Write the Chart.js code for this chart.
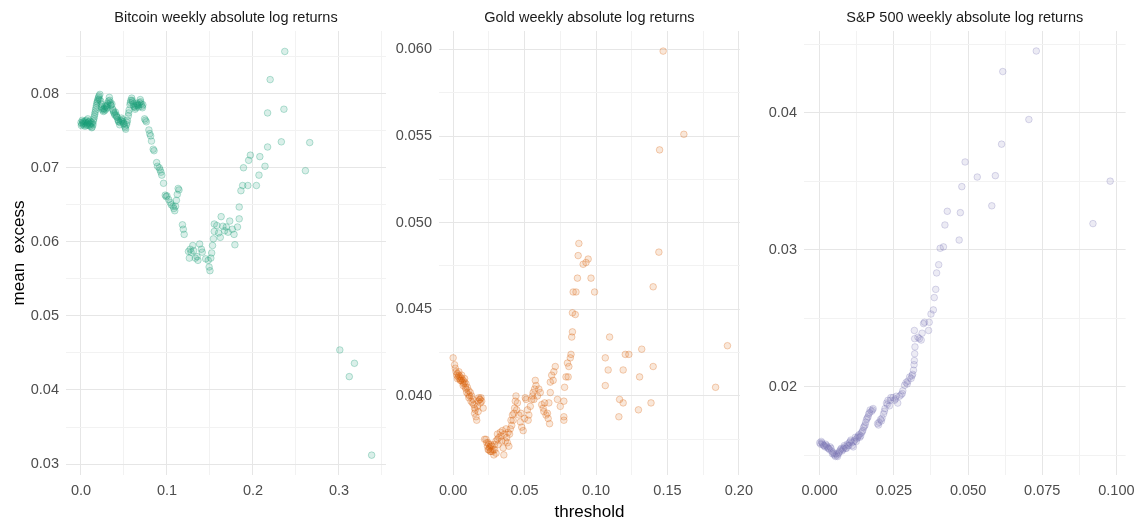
<!DOCTYPE html>
<html>
<head>
<meta charset="utf-8">
<title>Mean excess plots</title>
<script src="https://cdn.jsdelivr.net/npm/chart.js@4.4.1/dist/chart.umd.min.js"></script>
<style>
  html, body { margin: 0; padding: 0; background: #fff; }
  #wrap { position: relative; width: 1142px; height: 527px; overflow: hidden; }
  #wrap canvas { position: absolute; top: 0; }
</style>
</head>
<body>
<div id="wrap">
  <canvas id="btc" width="392" height="527" style="left:0px"></canvas>
  <canvas id="gold" width="368" height="527" style="left:392px"></canvas>
  <canvas id="spx" width="382" height="527" style="left:760px"></canvas>
</div>
<script>
// [threshold, mean excess]
const btcPoints = [
  [0.000,0.0761],[0.001,0.0759],[0.002,0.0762],[0.003,0.0758],[0.004,0.0760],[0.005,0.0763],[0.006,0.0757],
  [0.007,0.0760],[0.008,0.0766],[0.009,0.0762],[0.010,0.0759],[0.011,0.0756],[0.012,0.0761],[0.013,0.0755],
  [0.014,0.0758],[0.015,0.0766],[0.016,0.0772],[0.017,0.0778],[0.018,0.0784],[0.019,0.0789],[0.020,0.0793],
  [0.021,0.0797],[0.022,0.0799],[0.023,0.0790],[0.024,0.0782],[0.025,0.0778],[0.026,0.0776],[0.027,0.0780],
  [0.028,0.0783],[0.029,0.0779],[0.030,0.0784],[0.031,0.0787],[0.032,0.0790],[0.033,0.0795],[0.034,0.0788],
  [0.035,0.0784],[0.036,0.0786],[0.037,0.0779],[0.038,0.0775],[0.039,0.0773],[0.040,0.0775],[0.041,0.0771],
  [0.042,0.0768],[0.043,0.0765],[0.044,0.0762],[0.045,0.0758],[0.046,0.0764],[0.047,0.0767],[0.048,0.0765],
  [0.049,0.0762],[0.050,0.0760],[0.051,0.0756],[0.052,0.0752],[0.053,0.0758],[0.054,0.0764],[0.055,0.0770],
  [0.056,0.0778],[0.057,0.0785],[0.058,0.0791],[0.059,0.0794],[0.060,0.0789],[0.061,0.0786],[0.062,0.0782],
  [0.063,0.0779],[0.064,0.0784],[0.065,0.0787],[0.066,0.0784],[0.067,0.0782],[0.068,0.0788],[0.069,0.0792],
  [0.070,0.0786],[0.071,0.0783],[0.072,0.0785],[0.074,0.0766],[0.075,0.0764],[0.076,0.0762],[0.079,0.0751],
  [0.0005,0.0757],[0.0015,0.0764],[0.0025,0.0760],[0.0035,0.0762],[0.0045,0.0756],[0.0055,0.0761],[0.0065,0.0764],
  [0.0075,0.0758],[0.0085,0.0761],[0.0095,0.0757],[0.0105,0.0763],[0.0115,0.0759],[0.0125,0.0754],[0.0135,0.0760],
  [0.0145,0.0763],[0.0155,0.0769],[0.0165,0.0775],[0.0175,0.0781],[0.0185,0.0787],[0.0195,0.0791],[0.0205,0.0795],
  [0.0215,0.0792],[0.0235,0.0786],[0.0245,0.0780],[0.0265,0.0779],[0.0275,0.0777],[0.0295,0.0782],[0.0305,0.0781],
  [0.0315,0.0785],[0.0335,0.0791],[0.0345,0.0785],[0.0375,0.0777],[0.0395,0.0771],[0.0415,0.0769],[0.0435,0.0763],
  [0.0455,0.0761],[0.0475,0.0763],[0.0495,0.0759],[0.0515,0.0754],[0.0535,0.0761],[0.0555,0.0774],[0.0575,0.0788],
  [0.0595,0.0791],[0.0615,0.0783],[0.0635,0.0781],[0.0655,0.0785],[0.0675,0.0785],[0.0695,0.0789],[0.0715,0.0781],
  [0.080,0.0746],[0.081,0.0743],[0.082,0.0736],[0.084,0.0725],[0.085,0.0723],[0.088,0.0707],[0.089,0.0702],
  [0.091,0.0700],[0.092,0.0697],[0.093,0.0694],[0.094,0.0690],[0.096,0.0679],[0.098,0.0663],[0.099,0.0661],
  [0.100,0.0662],[0.102,0.0657],[0.104,0.0653],[0.105,0.0650],[0.107,0.0648],[0.108,0.0645],[0.109,0.0642],
  [0.110,0.0648],[0.111,0.0656],[0.112,0.0664],[0.113,0.0672],[0.114,0.0670],[0.118,0.0623],[0.119,0.0617],
  [0.120,0.0610],[0.125,0.0587],[0.126,0.0578],[0.127,0.0590],[0.128,0.0586],[0.130,0.0595],[0.131,0.0588],
  [0.133,0.0578],[0.135,0.0580],[0.136,0.0575],[0.138,0.0597],[0.140,0.0590],[0.141,0.0586],[0.145,0.0577],
  [0.148,0.0575],[0.149,0.0566],[0.150,0.0561],[0.151,0.0578],[0.152,0.0585],[0.153,0.0595],[0.154,0.0604],
  [0.155,0.0614],[0.155,0.0624],[0.158,0.0622],[0.160,0.0612],[0.162,0.0606],[0.163,0.0634],[0.165,0.0621],
  [0.167,0.0615],[0.169,0.0620],[0.171,0.0613],[0.173,0.0628],[0.176,0.0617],[0.178,0.0610],[0.179,0.0596],
  [0.182,0.0620],[0.184,0.0631],[0.184,0.0647],[0.186,0.0669],[0.188,0.0676],[0.189,0.0700],[0.194,0.0676],
  [0.195,0.0710],[0.197,0.0717],[0.204,0.0676],[0.207,0.0690],[0.208,0.0715],[0.214,0.0702],[0.217,0.0728],
  [0.217,0.0774],[0.220,0.0819],[0.233,0.0735],[0.236,0.0779],[0.237,0.0857],[0.261,0.0696],[0.266,0.0734],
  [0.301,0.0454],[0.312,0.0418],[0.318,0.0436],[0.338,0.0312]
];

const goldPoints = [
  [0.000,0.0422],[0.001,0.0418],[0.002,0.0414],[0.0025,0.0412],[0.003,0.0413],[0.0035,0.0411],[0.004,0.0412],
  [0.0045,0.0410],[0.005,0.0411],[0.0055,0.0409],[0.006,0.0410],[0.0065,0.0408],[0.007,0.0409],[0.0075,0.0407],
  [0.008,0.0408],[0.0085,0.0405],[0.009,0.0404],[0.010,0.0405],[0.011,0.0403],[0.011,0.0399],[0.012,0.0402],
  [0.0125,0.0397],[0.013,0.0400],[0.014,0.0398],[0.0145,0.0395],[0.015,0.0393],[0.015,0.0390],[0.016,0.0388],
  [0.0165,0.0386],[0.017,0.0394],[0.0175,0.0397],[0.018,0.0399],[0.0185,0.0398],[0.019,0.0396],[0.0195,0.0399],
  [0.020,0.0397],[0.021,0.0393],[0.022,0.0375],[0.023,0.0375],[0.024,0.0371],[0.0245,0.0369],[0.025,0.0372],
  [0.0255,0.0370],[0.026,0.0371],[0.0265,0.0368],[0.027,0.0371],[0.028,0.0369],[0.0285,0.0366],[0.029,0.0369],
  [0.030,0.0374],[0.031,0.0378],[0.0315,0.0372],[0.032,0.0376],[0.033,0.0379],[0.034,0.0374],[0.035,0.0370],
  [0.0355,0.0366],[0.036,0.0378],[0.037,0.0381],[0.0375,0.0376],[0.038,0.0373],[0.039,0.0371],[0.0395,0.0378],
  [0.040,0.0381],[0.041,0.0383],[0.042,0.0386],[0.0425,0.0390],[0.043,0.0393],[0.0435,0.0397],[0.044,0.0400],
  [0.0015,0.0416],[0.003,0.0410],[0.004,0.0414],[0.005,0.0409],[0.006,0.0412],[0.007,0.0406],[0.008,0.0410],
  [0.009,0.0407],[0.0095,0.0402],[0.0105,0.0401],[0.0115,0.0400],[0.0135,0.0396],[0.0155,0.0392],[0.0175,0.0391],
  [0.019,0.0398],[0.0235,0.0373],[0.0245,0.0373],[0.025,0.0369],[0.026,0.0368],[0.0265,0.0372],[0.0275,0.0368],
  [0.029,0.0372],[0.030,0.0367],[0.031,0.0375],[0.0335,0.0377],[0.0345,0.0380],[0.0365,0.0374],[0.0385,0.0379],
  [0.0405,0.0386],[0.0415,0.0389],[0.0445,0.0392],[0.0475,0.0390],[0.0525,0.0386],[0.0565,0.0398],[0.060,0.0404],
  [0.064,0.0396],
  [0.045,0.0396],[0.046,0.0389],[0.047,0.0385],[0.048,0.0382],[0.049,0.0380],[0.050,0.0387],[0.0505,0.0399],
  [0.051,0.0398],[0.052,0.0392],[0.053,0.0389],[0.054,0.0394],[0.055,0.0398],[0.0555,0.0400],[0.056,0.0402],
  [0.057,0.0404],[0.0575,0.0409],[0.058,0.0406],[0.059,0.0400],[0.061,0.0402],[0.062,0.0395],[0.063,0.0393],
  [0.0635,0.0391],[0.065,0.0389],[0.066,0.0390],[0.0665,0.0387],[0.0675,0.0384],[0.067,0.0396],[0.068,0.0402],
  [0.068,0.0408],[0.069,0.0412],[0.070,0.0409],[0.0705,0.0414],[0.0715,0.0417],[0.073,0.0398],[0.075,0.0394],
  [0.0775,0.0397],[0.0775,0.0388],[0.0775,0.0386],[0.078,0.0405],[0.079,0.0411],[0.080,0.0419],[0.0805,0.0411],
  [0.081,0.0417],[0.082,0.0422],[0.0825,0.0424],[0.083,0.0434],[0.0835,0.0437],[0.0835,0.0448],[0.0855,0.0447],
  [0.084,0.0460],[0.086,0.0460],[0.087,0.0468],[0.0875,0.0481],[0.088,0.0488],[0.091,0.0476],[0.093,0.0477],
  [0.0945,0.0479],[0.0965,0.0468],[0.099,0.0460],[0.1065,0.0422],[0.1065,0.0406],[0.1085,0.0415],[0.1095,0.0434],
  [0.116,0.0388],[0.1165,0.0398],[0.119,0.0396],[0.119,0.0415],[0.1205,0.0424],[0.123,0.0424],[0.1297,0.0392],
  [0.1305,0.0411],[0.132,0.0427],[0.1385,0.0396],[0.140,0.0417],[0.140,0.0463],[0.144,0.0483],[0.1445,0.0542],
  [0.147,0.0599],[0.1615,0.0551],[0.1837,0.0405],[0.192,0.0429]
];

const spxPoints = [
  [0.0000,0.0159],[0.0005,0.0160],[0.0010,0.0158],[0.0015,0.0157],[0.0020,0.0158],[0.0025,0.0156],[0.0030,0.0155],
  [0.0035,0.0156],[0.0040,0.0153],[0.0045,0.0152],[0.0050,0.0150],[0.0055,0.0151],[0.0060,0.0149],[0.0065,0.0152],
  [0.0070,0.0154],[0.0075,0.0153],[0.0080,0.0155],[0.0085,0.0156],[0.0090,0.0155],[0.0095,0.0157],[0.0100,0.0159],
  [0.0105,0.0161],[0.0110,0.0157],[0.0115,0.0160],[0.0120,0.0163],[0.0125,0.0162],[0.0130,0.0164],[0.0135,0.0163],
  [0.0140,0.0166],[0.0145,0.0168],[0.0150,0.0171],[0.0155,0.0174],[0.0160,0.0177],[0.0165,0.0180],[0.0170,0.0183],
  [0.0003,0.0158],[0.0008,0.0159],[0.0013,0.0157],[0.0018,0.0156],[0.0023,0.0157],[0.0028,0.0155],[0.0033,0.0154],
  [0.0038,0.0155],[0.0043,0.0151],[0.0048,0.0151],[0.0053,0.0149],[0.0058,0.0150],[0.0063,0.0151],[0.0068,0.0153],
  [0.0073,0.0155],[0.0078,0.0154],[0.0083,0.0157],[0.0088,0.0155],[0.0093,0.0158],[0.0098,0.0157],[0.0103,0.0160],
  [0.0108,0.0159],[0.0113,0.0156],[0.0118,0.0161],[0.0123,0.0160],[0.0128,0.0163],[0.0133,0.0165],[0.0138,0.0164],
  [0.0143,0.0167],[0.0148,0.0170],[0.0153,0.0172],[0.0158,0.0176],[0.0163,0.0178],[0.0168,0.0181],[0.0178,0.0183],
  [0.0198,0.0172],[0.0208,0.0175],[0.0218,0.0182],[0.0228,0.0187],[0.0238,0.0190],[0.0255,0.0191],[0.0278,0.0195],
  [0.0295,0.0202],[0.0311,0.0208],
  [0.0175,0.0182],[0.0180,0.0184],[0.0195,0.0173],[0.0200,0.0174],[0.0205,0.0176],[0.0210,0.0177],[0.0215,0.0180],
  [0.0220,0.0184],[0.0225,0.0188],[0.0230,0.0190],[0.0235,0.0186],[0.0240,0.0192],[0.0247,0.0192],[0.0252,0.0190],
  [0.0258,0.0193],[0.0263,0.0188],[0.0269,0.0193],[0.0274,0.0194],[0.0280,0.0197],[0.0286,0.0201],[0.0291,0.0203],
  [0.0297,0.0204],[0.0303,0.0207],[0.0308,0.0206],[0.0313,0.0209],[0.0316,0.0212],[0.0318,0.0216],[0.0319,0.0219],
  [0.0320,0.0224],[0.0321,0.0229],[0.0320,0.0235],[0.0319,0.0241],[0.0331,0.0236],[0.0336,0.0235],[0.0342,0.0234],
  [0.0345,0.0239],[0.0350,0.0246],[0.0353,0.0247],[0.0367,0.0241],[0.0369,0.0247],[0.0375,0.0253],[0.0383,0.0256],
  [0.0386,0.0265],[0.0391,0.0271],[0.0394,0.0283],[0.0401,0.0289],[0.0406,0.0301],[0.0417,0.0302],[0.0422,0.0318],
  [0.0430,0.0328],[0.0470,0.0307],[0.0474,0.0327],[0.0479,0.0346],[0.0490,0.0364],[0.0531,0.0353],[0.0580,0.0332],
  [0.0592,0.0354],[0.0613,0.0377],[0.0617,0.0430],[0.0705,0.0395],[0.0730,0.0445],[0.0921,0.0319],[0.0979,0.0350]
];

const fontFamily = '"Liberation Sans", Arial, Helvetica, sans-serif';

// draws the facet strip title centred over the plot area
const stripTitle = {
  id: 'stripTitle',
  afterDraw(chart, args, opts) {
    const { ctx, chartArea } = chart;
    ctx.save();
    ctx.font = '14.5px ' + fontFamily;
    ctx.fillStyle = '#1a1a1a';
    ctx.textAlign = 'center';
    ctx.textBaseline = 'middle';
    ctx.fillText(opts.text, (chartArea.left + chartArea.right) / 2, 18);
    ctx.restore();
  }
};

const isMajor = (v, major) => Math.abs(v / major - Math.round(v / major)) < 1e-6;

const axis = (range, step, major, digits, fit, title, titlePad) => ({
  type: 'linear',
  min: range[0],
  max: range[1],
  border: { display: false },
  grid: {
    drawTicks: false,
    color: (c) => (isMajor(c.tick.value, major) ? '#e6e6e6' : '#f2f2f2'),
    lineWidth: 1
  },
  ticks: {
    stepSize: step,
    includeBounds: false,
    autoSkip: false,
    maxRotation: 0,
    padding: 7,
    color: '#4d4d4d',
    font: { family: fontFamily, size: 14.5 },
    callback: (v) => (isMajor(v, major) ? v.toFixed(digits) : '')
  },
  title: title
    ? { display: true, text: title, color: '#000', font: { family: fontFamily, size: 17 }, padding: titlePad }
    : { display: false },
  afterFit: fit
});

const makePanel = (id, cfg) => {
  const ctx = document.getElementById(id).getContext('2d');
  return new Chart(ctx, {
    type: 'scatter',
    data: {
      datasets: [{
        data: cfg.points.map((p) => ({ x: p[0], y: p[1] })),
        pointRadius: 3.3,
        pointHoverRadius: 3.3,
        borderWidth: 1,
        backgroundColor: cfg.fill,
        borderColor: cfg.line
      }]
    },
    options: {
      responsive: false,
      animation: false,
      layout: { padding: { top: 31, right: cfg.padRight, bottom: 0, left: 0 } },
      scales: {
        x: axis(cfg.xRange, cfg.xStep, cfg.xMajor, cfg.xDigits, (s) => { s.height = 52; },
          cfg.xTitle, { top: 4, bottom: 4 }),
        y: axis(cfg.yRange, cfg.yStep, cfg.yMajor, cfg.yDigits, (s) => { s.width = cfg.yWidth; },
          cfg.yTitle, { top: 9, bottom: 4 })
      },
      plugins: {
        legend: { display: false },
        tooltip: { enabled: false },
        stripTitle: { text: cfg.title }
      }
    },
    plugins: [stripTitle]
  });
};

makePanel('btc', {
  title: 'Bitcoin weekly absolute log returns',
  points: btcPoints,
  fill: 'rgba(27,158,119,0.16)',
  line: 'rgba(27,158,119,0.30)',
  xRange: [-0.0174, 0.3547], xStep: 0.05, xMajor: 0.1, xDigits: 1,
  yRange: [0.02852, 0.08846], yStep: 0.005, yMajor: 0.01, yDigits: 2,
  yWidth: 66, padRight: 6,
  yTitle: 'mean  excess'
});

makePanel('gold', {
  title: 'Gold weekly absolute log returns',
  points: goldPoints,
  fill: 'rgba(217,95,2,0.15)',
  line: 'rgba(217,95,2,0.28)',
  xRange: [-0.0099, 0.2007], xStep: 0.025, xMajor: 0.05, xDigits: 2,
  yRange: [0.03544, 0.06106], yStep: 0.0025, yMajor: 0.005, yDigits: 3,
  yWidth: 47, padRight: 2,
  xTitle: 'threshold'
});

makePanel('spx', {
  title: 'S&P 500 weekly absolute log returns',
  points: spxPoints,
  fill: 'rgba(117,112,179,0.14)',
  line: 'rgba(117,112,179,0.26)',
  xRange: [-0.0053, 0.1031], xStep: 0.0125, xMajor: 0.025, xDigits: 3,
  yRange: [0.01355, 0.04596], yStep: 0.005, yMajor: 0.01, yDigits: 2,
  yWidth: 44, padRight: 16
});
</script>
</body>
</html>
